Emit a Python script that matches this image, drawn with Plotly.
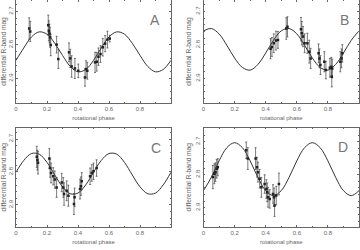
import plotly.graph_objects as go

# ---------------- data ----------------
curve_phase = [0.00, 0.05, 0.10, 0.15, 0.20, 0.25, 0.30, 0.35, 0.40, 0.45, 0.50,
               0.55, 0.60, 0.65, 0.70, 0.75, 0.80, 0.85, 0.90, 0.95, 1.00]

curve_A = [2.846, 2.809, 2.776, 2.761, 2.768, 2.795, 2.831, 2.864, 2.880, 2.873, 2.846,
           2.809, 2.776, 2.761, 2.768, 2.795, 2.831, 2.864, 2.880, 2.873, 2.846]
curve_B = [2.758, 2.751, 2.767, 2.801, 2.839, 2.867, 2.875, 2.858, 2.824, 2.786, 2.758,
           2.751, 2.767, 2.801, 2.839, 2.867, 2.875, 2.858, 2.824, 2.786, 2.758]
curve_C = [2.801, 2.765, 2.744, 2.746, 2.771, 2.809, 2.845, 2.866, 2.864, 2.839, 2.801,
           2.765, 2.744, 2.746, 2.771, 2.809, 2.845, 2.866, 2.864, 2.839, 2.801]
curve_D = [2.848, 2.808, 2.758, 2.718, 2.703, 2.718, 2.758, 2.808, 2.848, 2.863, 2.848,
           2.808, 2.758, 2.718, 2.703, 2.718, 2.758, 2.808, 2.848, 2.863, 2.848]

phase_A = [0.085, 0.092, 0.208, 0.212, 0.216, 0.220, 0.224, 0.262, 0.273, 0.342, 0.350,
           0.359, 0.380, 0.402, 0.445, 0.452, 0.460, 0.510, 0.521, 0.532, 0.545, 0.560,
           0.575, 0.590, 0.605]
mag_A = [2.751, 2.760, 2.741, 2.758, 2.766, 2.777, 2.800, 2.799, 2.842, 2.822, 2.840,
         2.864, 2.870, 2.877, 2.897, 2.872, 2.877, 2.852, 2.850, 2.835, 2.827, 2.807,
         2.796, 2.784, 2.781]
err_A = [0.032, 0.030, 0.030, 0.030, 0.028, 0.030, 0.032, 0.025, 0.028, 0.028, 0.027,
         0.032, 0.030, 0.020, 0.026, 0.025, 0.025, 0.030, 0.028, 0.026, 0.025, 0.026,
         0.024, 0.025, 0.010]

phase_B = [0.431, 0.440, 0.452, 0.466, 0.479, 0.532, 0.540, 0.627, 0.632, 0.640, 0.650,
           0.668, 0.680, 0.689, 0.740, 0.746, 0.752, 0.777, 0.787, 0.813, 0.822, 0.828,
           0.825, 0.880, 0.887, 0.893]
mag_B = [2.811, 2.806, 2.795, 2.787, 2.785, 2.751, 2.746, 2.753, 2.765, 2.775, 2.795,
         2.795, 2.820, 2.840, 2.825, 2.840, 2.860, 2.850, 2.875, 2.868, 2.865, 2.870,
         2.895, 2.850, 2.840, 2.825]
err_B = [0.030, 0.028, 0.028, 0.028, 0.025, 0.032, 0.030, 0.035, 0.035, 0.030, 0.028,
         0.030, 0.034, 0.030, 0.028, 0.028, 0.028, 0.030, 0.026, 0.028, 0.028, 0.028,
         0.030, 0.030, 0.028, 0.026]

phase_C = [0.134, 0.138, 0.142, 0.215, 0.220, 0.226, 0.240, 0.250, 0.262, 0.295, 0.305,
           0.310, 0.327, 0.338, 0.374, 0.378, 0.413, 0.419, 0.424, 0.478, 0.489, 0.500,
           0.520]
mag_C = [2.754, 2.764, 2.772, 2.759, 2.788, 2.803, 2.813, 2.823, 2.847, 2.832, 2.847,
         2.867, 2.857, 2.872, 2.897, 2.877, 2.852, 2.843, 2.828, 2.813, 2.803, 2.798,
         2.788]
err_C = [0.032, 0.030, 0.034, 0.030, 0.028, 0.030, 0.026, 0.026, 0.030, 0.028, 0.030,
         0.034, 0.030, 0.032, 0.032, 0.028, 0.030, 0.028, 0.026, 0.025, 0.025, 0.025,
         0.025]

phase_D = [0.060, 0.070, 0.077, 0.085, 0.092, 0.275, 0.285, 0.335, 0.344, 0.350, 0.361,
           0.372, 0.393, 0.404, 0.410, 0.415, 0.426, 0.447, 0.454, 0.457, 0.468, 0.485]
mag_D = [2.807, 2.797, 2.792, 2.782, 2.777, 2.726, 2.751, 2.751, 2.777, 2.792, 2.812,
         2.838, 2.828, 2.843, 2.853, 2.868, 2.873, 2.858, 2.868, 2.893, 2.863, 2.828]
err_D = [0.035, 0.030, 0.028, 0.028, 0.026, 0.025, 0.033, 0.033, 0.030, 0.030, 0.028,
         0.030, 0.028, 0.028, 0.028, 0.030, 0.028, 0.028, 0.028, 0.033, 0.028, 0.033]

panel_letters = ["A", "B", "C", "D"]
x_tick_vals = [0, 0.2, 0.4, 0.6, 0.8]
x_tick_text = ["0", "0.2", "0.4", "0.6", "0.8"]
y_tick_vals = [2.7, 2.8, 2.9]
y_tick_text = ["2.7", "2.8", "2.9"]

# ---------------- figure ----------------
W, H = 360, 250
fig = go.Figure()

panels = [
    dict(curve=curve_A, ph=phase_A, mag=mag_A, err=err_A,
         xd=[16 / W, 171 / W], yd=[1 - 103 / H, 1.0], yr=[2.973, 2.666]),
    dict(curve=curve_B, ph=phase_B, mag=mag_B, err=err_B,
         xd=[203.5 / W, 359 / W], yd=[1 - 103 / H, 1.0], yr=[2.973, 2.666]),
    dict(curve=curve_C, ph=phase_C, mag=mag_C, err=err_C,
         xd=[16 / W, 171 / W], yd=[1 - 227 / H, 1 - 127.5 / H], yr=[2.967, 2.665]),
    dict(curve=curve_D, ph=phase_D, mag=mag_D, err=err_D,
         xd=[203.5 / W, 359 / W], yd=[1 - 227 / H, 1 - 127.5 / H], yr=[2.958, 2.657]),
]

FONT = "Liberation Sans, Arial, sans-serif"
tick_font = dict(family=FONT, size=6, color="#666")
layout = {}
for i, p in enumerate(panels):
    n = "" if i == 0 else str(i + 1)
    xa, ya = "x" + n, "y" + n
    fig.add_trace(go.Scatter(
        x=curve_phase, y=p["curve"], mode="lines",
        line=dict(color="#333", width=1, shape="spline", smoothing=1.0),
        xaxis=xa, yaxis=ya, showlegend=False, hoverinfo="skip"))
    fig.add_trace(go.Scatter(
        x=p["ph"], y=p["mag"], mode="markers",
        marker=dict(symbol="square", size=2.5, color="#222"),
        error_y=dict(type="data", array=p["err"], visible=True,
                     color="#444", thickness=0.7, width=1),
        xaxis=xa, yaxis=ya, showlegend=False))
    layout["xaxis" + n] = dict(
        domain=p["xd"], anchor=ya, range=[0, 1], automargin=False,
        tickmode="array", tickvals=x_tick_vals, ticktext=x_tick_text,
        ticks="inside", ticklen=2, tickwidth=0.8, tickcolor="#666",
        minor=dict(dtick=0.1, ticks="inside", ticklen=1.5, tickcolor="#666"),
        showline=True, linecolor="#666", linewidth=0.8, mirror="ticks",
        showgrid=False, zeroline=False, tickfont=tick_font,
        title=dict(text="rotational phase", font=tick_font, standoff=4))
    layout["yaxis" + n] = dict(
        domain=p["yd"], anchor=xa, range=p["yr"], automargin=False,
        tickmode="array", tickvals=y_tick_vals, ticktext=y_tick_text,
        tickangle=-90,
        ticks="inside", ticklen=2, tickwidth=0.8, tickcolor="#666",
        minor=dict(dtick=0.02, ticks="inside", ticklen=1.5, tickcolor="#666"),
        showline=True, linecolor="#666", linewidth=0.8, mirror="ticks",
        showgrid=False, zeroline=False, tickfont=tick_font,
        title=dict(text="differential R-band mag",
                   font=dict(family=FONT, size=6.6, color="#666"),
                   standoff=2))

letter_pos = [(155, 20), (344, 20), (156, 148), (343, 147)]
annotations = []
for letter, (px, py) in zip(panel_letters, letter_pos):
    annotations.append(dict(
        text=letter, x=px / W, y=1 - py / H, xref="paper", yref="paper",
        showarrow=False, xanchor="center", yanchor="middle",
        font=dict(family=FONT, size=14, color="#777")))

fig.update_layout(
    width=W, height=H, margin=dict(l=0, r=0, t=0, b=0),
    paper_bgcolor="white", plot_bgcolor="white",
    annotations=annotations, **layout)

fig.write_html("out.html", config={"displayModeBar": False},
               post_script="document.body.style.margin='0';document.body.style.overflow='hidden';")
